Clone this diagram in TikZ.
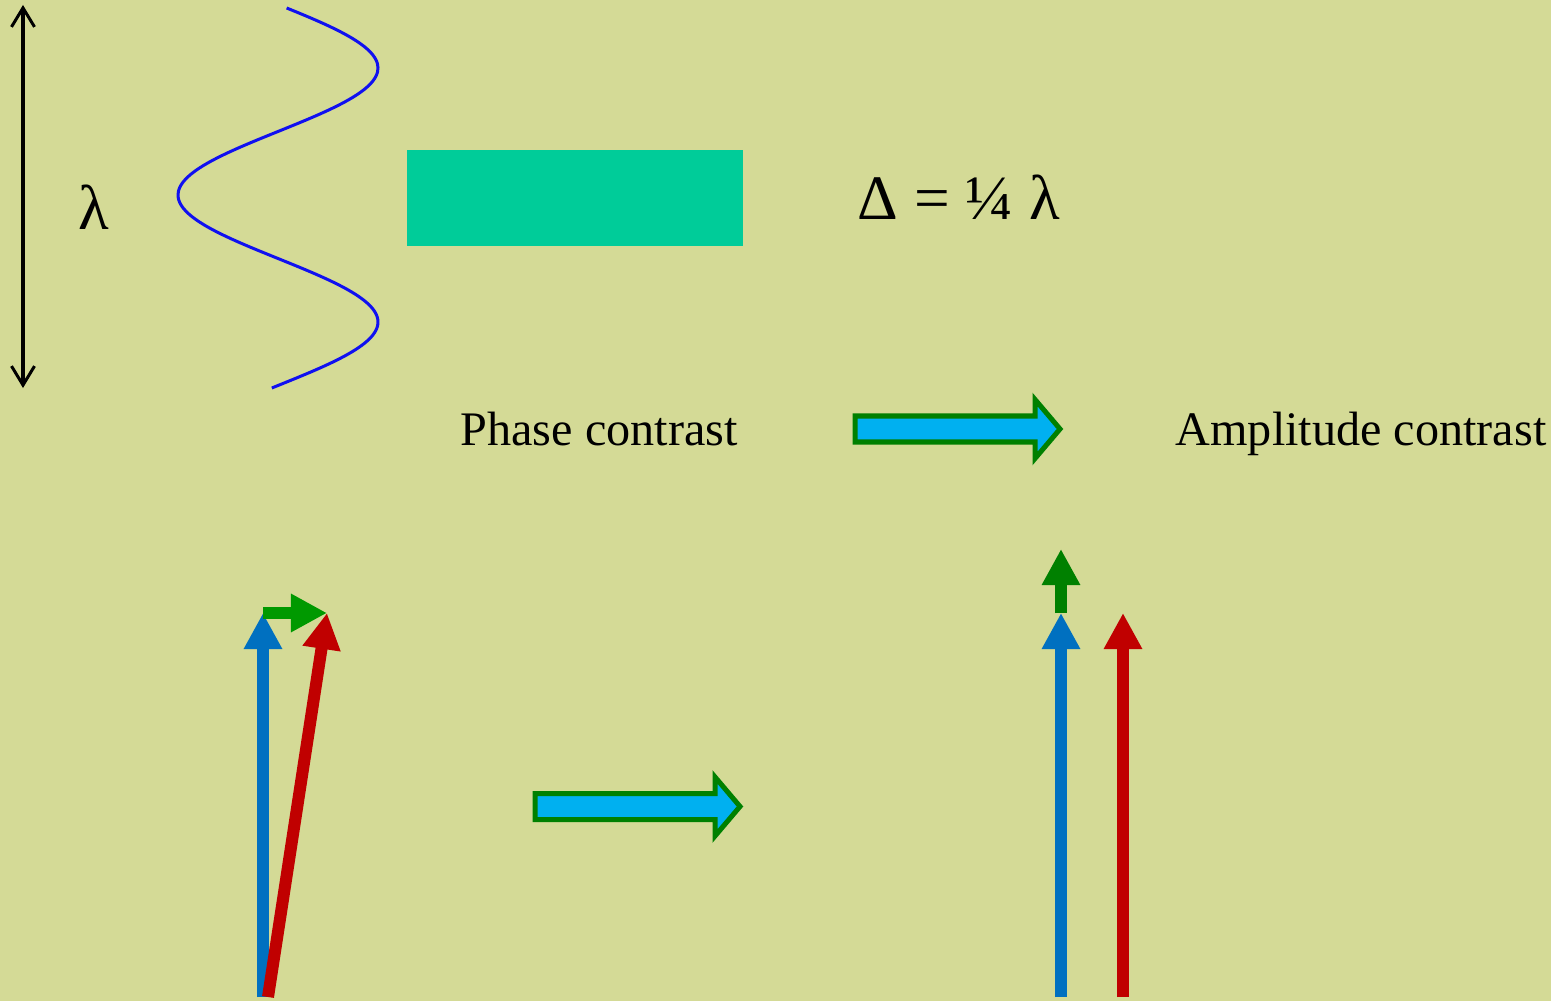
\documentclass[tikz,border=0pt]{standalone}
\usepackage{fontspec}
\setmainfont{Liberation Serif}
\usepackage{tikz}
\usetikzlibrary{arrows.meta, positioning, calc}
\definecolor{mBack}{HTML}{D4DA96}
\definecolor{mTeal}{HTML}{00CC99}
\definecolor{mSky}{HTML}{00B0F0}
\definecolor{mDarkGreen}{HTML}{008000}
\definecolor{mGreen}{HTML}{009900}
\definecolor{mBlue}{HTML}{0070C0}
\definecolor{mRed}{HTML}{C00000}
\definecolor{mWave}{HTML}{1010F0}

% block arrow: #1 = left end, #2 = middle height
\newcommand{\blockarrow}[2]{%
  \draw[blockarrow] (#1,#2-13) -- ++(180,0) -- ++(0,-16.5) -- ++(25,29.5)
    -- ++(-25,29.5) -- ++(0,-16.5) -- ++(-180,0) -- cycle;}

\begin{document}
\begin{tikzpicture}[x=0.01cm, y=-0.01cm,
      lbl/.style={anchor=base west, inner sep=0pt, font=\fontsize{13.7}{16}\selectfont},
      biglbl/.style={anchor=base west, inner sep=0pt, font=\fontsize{18}{21}\selectfont},
      blockarrow/.style={draw=mDarkGreen, fill=mSky, line width=0.05cm, line join=miter},
      vec/.style={line width=0.12cm, -{Triangle[length=0.36cm, width=0.36cm]}}]
    \fill[mBack] (0,0) rectangle (1551,1001);
    % wavelength
    \draw[line width=0.03cm, {Straight Barb[length=0.19cm, width=0.23cm]}-{Straight Barb[length=0.19cm, width=0.23cm]}]
      (23,5) -- (23,388);
    \node[biglbl] (lam) at (78,229) {λ};
    \draw[mWave, line width=0.03cm, smooth, samples=90, domain=8:388, variable=\t]
      plot ({278+100*cos(1.4173*(\t-68))}, \t);
    % phase plate
    \fill[mTeal] (407,150) rectangle (743,246);
    \node[biglbl] (delta) at (857,220) {Δ = ¼ λ};
    % captions
    \node[lbl] (phase) at (460,445) {Phase contrast};
    \node[lbl] (ampl) at (1175,445) {Amplitude contrast};
    \blockarrow{855}{429}
    \blockarrow{535}{806.5}
    % vectors before
    \coordinate (b0) at (263,997);  \coordinate (b1) at (263,613);
    \coordinate (r0) at (268,997);  \coordinate (r1) at (327,613);
    \draw[vec, mBlue] (b0) -- (b1);
    \draw[vec, mRed] (r0) -- (r1);
    \draw[vec, mGreen] (b1) -- (r1);
    % vectors after
    \coordinate (B0) at (1061,997); \coordinate (B1) at (1061,613);
    \coordinate (G1) at (1061,549);
    \coordinate (R0) at (1123,997); \coordinate (R1) at (1123,613);
    \draw[vec, mBlue] (B0) -- (B1);
    \draw[vec, mDarkGreen] (B1) -- (G1);
    \draw[vec, mRed] (R0) -- (R1);
  \end{tikzpicture}
\end{document}
